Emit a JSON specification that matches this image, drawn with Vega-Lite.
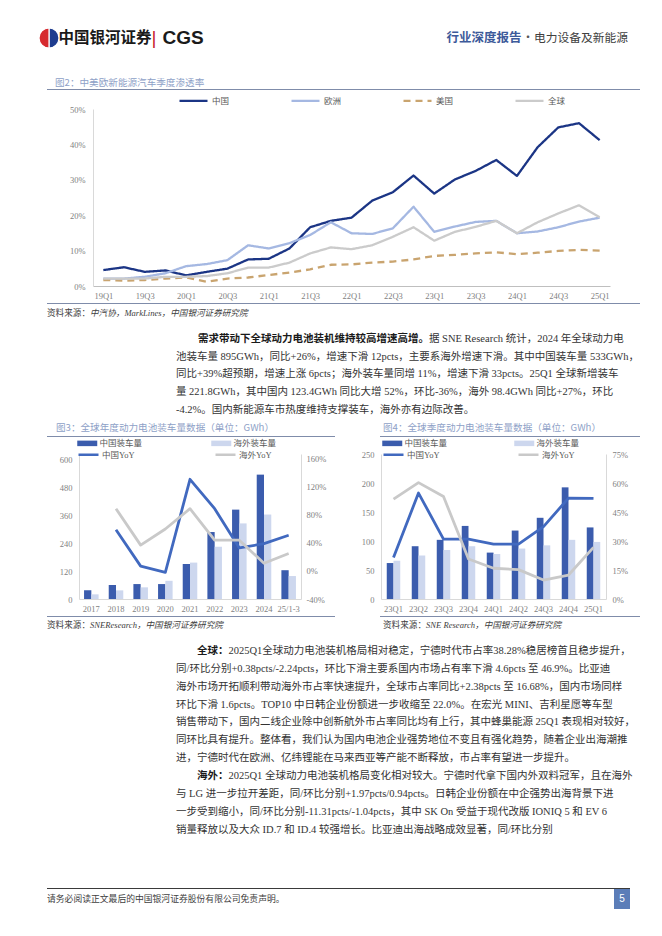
{
"$schema": "https://vega.github.io/schema/vega-lite/v6.json",
"background": "white",
"padding": 0,
"config": {
  "view": {"stroke": null},
  "font": "Liberation Serif, Noto Sans CJK SC",
  "axis": {"grid": false, "ticks": false, "labelFont": "Liberation Serif, Noto Sans CJK SC", "labelFontSize": 8.5, "labelColor": "#7F7F7F", "domainColor": "#D9D9D9", "domainWidth": 1},
  "legend": {"labelFont": "Liberation Serif, Noto Sans CJK SC", "labelFontSize": 8.5, "labelColor": "#595959", "padding": 0}
},
"datasets": {
  "empty": [],
  "c1": [
    {"q":"19Q1","s":"中国","v":4.5},{"q":"19Q2","s":"中国","v":5.3},{"q":"19Q3","s":"中国","v":4.0},{"q":"19Q4","s":"中国","v":4.4},{"q":"20Q1","s":"中国","v":3.0},{"q":"20Q2","s":"中国","v":4.0},{"q":"20Q3","s":"中国","v":4.9},{"q":"20Q4","s":"中国","v":7.5},{"q":"21Q1","s":"中国","v":7.7},{"q":"21Q2","s":"中国","v":10.6},{"q":"21Q3","s":"中国","v":16.6},{"q":"21Q4","s":"中国","v":18.4},{"q":"22Q1","s":"中国","v":19.3},{"q":"22Q2","s":"中国","v":24.1},{"q":"22Q3","s":"中国","v":26.5},{"q":"22Q4","s":"中国","v":31.2},{"q":"23Q1","s":"中国","v":26.1},{"q":"23Q2","s":"中国","v":30.1},{"q":"23Q3","s":"中国","v":32.5},{"q":"23Q4","s":"中国","v":35.6},{"q":"24Q1","s":"中国","v":31.1},{"q":"24Q2","s":"中国","v":39.2},{"q":"24Q3","s":"中国","v":44.8},{"q":"24Q4","s":"中国","v":46.0},{"q":"25Q1","s":"中国","v":41.2},
    {"q":"19Q1","s":"欧洲","v":2.1},{"q":"19Q2","s":"欧洲","v":2.1},{"q":"19Q3","s":"欧洲","v":2.6},{"q":"19Q4","s":"欧洲","v":3.6},{"q":"20Q1","s":"欧洲","v":5.6},{"q":"20Q2","s":"欧洲","v":6.2},{"q":"20Q3","s":"欧洲","v":7.3},{"q":"20Q4","s":"欧洲","v":11.5},{"q":"21Q1","s":"欧洲","v":10.6},{"q":"21Q2","s":"欧洲","v":12.1},{"q":"21Q3","s":"欧洲","v":14.4},{"q":"21Q4","s":"欧洲","v":18.0},{"q":"22Q1","s":"欧洲","v":14.9},{"q":"22Q2","s":"欧洲","v":14.7},{"q":"22Q3","s":"欧洲","v":16.3},{"q":"22Q4","s":"欧洲","v":22.4},{"q":"23Q1","s":"欧洲","v":15.3},{"q":"23Q2","s":"欧洲","v":16.8},{"q":"23Q3","s":"欧洲","v":18.1},{"q":"23Q4","s":"欧洲","v":18.4},{"q":"24Q1","s":"欧洲","v":14.9},{"q":"24Q2","s":"欧洲","v":15.4},{"q":"24Q3","s":"欧洲","v":16.6},{"q":"24Q4","s":"欧洲","v":18.2},{"q":"25Q1","s":"欧洲","v":19.3},
    {"q":"19Q1","s":"美国","v":1.7},{"q":"19Q2","s":"美国","v":1.5},{"q":"19Q3","s":"美国","v":1.7},{"q":"19Q4","s":"美国","v":2.1},{"q":"20Q1","s":"美国","v":2.4},{"q":"20Q2","s":"美国","v":1.2},{"q":"20Q3","s":"美国","v":2.1},{"q":"20Q4","s":"美国","v":2.4},{"q":"21Q1","s":"美国","v":3.1},{"q":"21Q2","s":"美国","v":3.8},{"q":"21Q3","s":"美国","v":4.7},{"q":"21Q4","s":"美国","v":6.0},{"q":"22Q1","s":"美国","v":6.1},{"q":"22Q2","s":"美国","v":6.6},{"q":"22Q3","s":"美国","v":6.9},{"q":"22Q4","s":"美国","v":7.5},{"q":"23Q1","s":"美国","v":8.5},{"q":"23Q2","s":"美国","v":8.8},{"q":"23Q3","s":"美国","v":9.2},{"q":"23Q4","s":"美国","v":9.5},{"q":"24Q1","s":"美国","v":9.0},{"q":"24Q2","s":"美国","v":9.4},{"q":"24Q3","s":"美国","v":9.9},{"q":"24Q4","s":"美国","v":10.2},{"q":"25Q1","s":"美国","v":10.0},
    {"q":"19Q1","s":"全球","v":2.1},{"q":"19Q2","s":"全球","v":2.1},{"q":"19Q3","s":"全球","v":2.1},{"q":"19Q4","s":"全球","v":2.6},{"q":"20Q1","s":"全球","v":2.6},{"q":"20Q2","s":"全球","v":2.8},{"q":"20Q3","s":"全球","v":3.6},{"q":"20Q4","s":"全球","v":5.2},{"q":"21Q1","s":"全球","v":5.2},{"q":"21Q2","s":"全球","v":6.6},{"q":"21Q3","s":"全球","v":9.2},{"q":"21Q4","s":"全球","v":10.9},{"q":"22Q1","s":"全球","v":10.4},{"q":"22Q2","s":"全球","v":11.5},{"q":"22Q3","s":"全球","v":13.9},{"q":"22Q4","s":"全球","v":16.6},{"q":"23Q1","s":"全球","v":12.8},{"q":"23Q2","s":"全球","v":15.3},{"q":"23Q3","s":"全球","v":16.7},{"q":"23Q4","s":"全球","v":18.4},{"q":"24Q1","s":"全球","v":14.9},{"q":"24Q2","s":"全球","v":18.0},{"q":"24Q3","s":"全球","v":20.5},{"q":"24Q4","s":"全球","v":22.8},{"q":"25Q1","s":"全球","v":19.4}
  ],
  "c3b": [
    {"x":"2017","s":"中国装车量","v":37},{"x":"2017","s":"海外装车量","v":20},
    {"x":"2018","s":"中国装车量","v":60},{"x":"2018","s":"海外装车量","v":37},
    {"x":"2019","s":"中国装车量","v":64},{"x":"2019","s":"海外装车量","v":50},
    {"x":"2020","s":"中国装车量","v":64},{"x":"2020","s":"海外装车量","v":78},
    {"x":"2021","s":"中国装车量","v":150},{"x":"2021","s":"海外装车量","v":156},
    {"x":"2022","s":"中国装车量","v":287},{"x":"2022","s":"海外装车量","v":224},
    {"x":"2023","s":"中国装车量","v":383},{"x":"2023","s":"海外装车量","v":324},
    {"x":"2024","s":"中国装车量","v":533},{"x":"2024","s":"海外装车量","v":362},
    {"x":"25/1-3","s":"中国装车量","v":123.4},{"x":"25/1-3","s":"海外装车量","v":98.4}
  ],
  "c3l": [
    {"x":"2018","s":"中国YoY","v":59},{"x":"2019","s":"中国YoY","v":7},{"x":"2020","s":"中国YoY","v":-2},{"x":"2021","s":"中国YoY","v":131},{"x":"2022","s":"中国YoY","v":89},{"x":"2023","s":"中国YoY","v":33},{"x":"2024","s":"中国YoY","v":39},{"x":"25/1-3","s":"中国YoY","v":51},
    {"x":"2018","s":"海外YoY","v":89},{"x":"2019","s":"海外YoY","v":37},{"x":"2020","s":"海外YoY","v":60},{"x":"2021","s":"海外YoY","v":89},{"x":"2022","s":"海外YoY","v":44},{"x":"2023","s":"海外YoY","v":44},{"x":"2024","s":"海外YoY","v":11},{"x":"25/1-3","s":"海外YoY","v":25}
  ],
  "c4b": [
    {"x":"23Q1","s":"中国装车量","v":62},{"x":"23Q1","s":"海外装车量","v":66},
    {"x":"23Q2","s":"中国装车量","v":91},{"x":"23Q2","s":"海外装车量","v":75},
    {"x":"23Q3","s":"中国装车量","v":102},{"x":"23Q3","s":"海外装车量","v":84.5},
    {"x":"23Q4","s":"中国装车量","v":126},{"x":"23Q4","s":"海外装车量","v":91},
    {"x":"24Q1","s":"中国装车量","v":80},{"x":"24Q1","s":"海外装车量","v":77.6},
    {"x":"24Q2","s":"中国装车量","v":118},{"x":"24Q2","s":"海外装车量","v":87},
    {"x":"24Q3","s":"中国装车量","v":140},{"x":"24Q3","s":"海外装车量","v":92.5},
    {"x":"24Q4","s":"中国装车量","v":192.5},{"x":"24Q4","s":"海外装车量","v":102},
    {"x":"25Q1","s":"中国装车量","v":123.4},{"x":"25Q1","s":"海外装车量","v":98.4}
  ],
  "c4l": [
    {"x":"23Q1","s":"中国YoY","v":21.5},{"x":"23Q2","s":"中国YoY","v":54.8},{"x":"23Q3","s":"中国YoY","v":31},{"x":"23Q4","s":"中国YoY","v":31},{"x":"24Q1","s":"中国YoY","v":28.4},{"x":"24Q2","s":"中国YoY","v":28.4},{"x":"24Q3","s":"中国YoY","v":37.4},{"x":"24Q4","s":"中国YoY","v":52.2},{"x":"25Q1","s":"中国YoY","v":52},
    {"x":"23Q1","s":"海外YoY","v":51.7},{"x":"23Q2","s":"海外YoY","v":60.2},{"x":"23Q3","s":"海外YoY","v":53},{"x":"23Q4","s":"海外YoY","v":20.7},{"x":"24Q1","s":"海外YoY","v":15.9},{"x":"24Q2","s":"海外YoY","v":15.2},{"x":"24Q3","s":"海外YoY","v":9.8},{"x":"24Q4","s":"海外YoY","v":12.4},{"x":"25Q1","s":"海外YoY","v":26.7}
  ]
},
"spacing": 0,
"bounds": "full",
"resolve": {"scale": {"color": "independent", "stroke": "independent", "strokeDash": "independent", "xOffset": "independent", "theta": "independent"}, "legend": {"color": "independent", "stroke": "independent", "strokeDash": "independent"}},
"vconcat": [
  {"spacing": 0, "bounds": "flush",
   "resolve": {"scale": {"color": "independent", "theta": "independent"}, "legend": {"color": "independent"}},
   "hconcat": [
    {"width": 39, "height": 76, "data": {"name": "empty"}, "mark": "rect", "encoding": {}},
    {"width": 20, "height": 76, "data": {"values": [{"p": "b", "v": 1}, {"p": "r", "v": 1}]}, "mark": {"type": "arc", "outerRadius": 10, "stroke": "white", "strokeWidth": 1.2}, "encoding": {"theta": {"field": "v", "type": "quantitative"}, "color": {"field": "p", "type": "nominal", "scale": {"domain": ["b", "r"], "range": ["#1E3C8F", "#D62A2F"]}, "legend": null}}},
    {"width": 92, "height": 76, "data": {"values": [{"t": "中国银河证券"}]}, "mark": {"type": "text", "align": "center", "baseline": "middle", "font": "Noto Sans CJK SC", "fontSize": 15.5, "fontWeight": "bold", "color": "#1A1A1A"}, "encoding": {"text": {"field": "t", "type": "nominal"}}},
    {"width": 6, "height": 76, "data": {"values": [{"t": "|"}]}, "mark": {"type": "text", "align": "center", "baseline": "middle", "font": "Liberation Sans", "fontSize": 19, "color": "#C8242B"}, "encoding": {"text": {"field": "t", "type": "nominal"}}},
    {"width": 52, "height": 76, "data": {"values": [{"t": "CGS"}]}, "mark": {"type": "text", "align": "center", "baseline": "middle", "font": "Liberation Sans", "fontSize": 19, "fontWeight": "bold", "color": "#1A1A1A"}, "encoding": {"text": {"field": "t", "type": "nominal"}}},
    {"width": 237, "height": 76, "data": {"name": "empty"}, "mark": "rect", "encoding": {}},
    {"width": 76, "height": 76, "data": {"values": [{"t": "行业深度报告"}]}, "mark": {"type": "text", "align": "center", "baseline": "middle", "font": "Noto Sans CJK SC", "fontSize": 12.5, "fontWeight": "bold", "color": "#3D5A9A"}, "encoding": {"text": {"field": "t", "type": "nominal"}}},
    {"width": 12, "height": 76, "data": {"values": [{"t": "·"}]}, "mark": {"type": "text", "align": "center", "baseline": "middle", "font": "Noto Sans CJK SC", "fontSize": 12, "color": "#555555"}, "encoding": {"text": {"field": "t", "type": "nominal"}}},
    {"width": 94, "height": 76, "data": {"values": [{"t": "电力设备及新能源"}]}, "mark": {"type": "text", "align": "center", "baseline": "middle", "font": "Noto Sans CJK SC", "fontSize": 11.75, "color": "#404040"}, "encoding": {"text": {"field": "t", "type": "nominal"}}}
  ]},
  {"width": 110, "height": 13, "data": {"values": [{"t": "图2：中美欧新能源汽车季度渗透率"}]}, "mark": {"type": "text", "align": "left", "baseline": "middle", "font": "Noto Sans CJK SC", "fontSize": 9.6, "color": "#8EA1C7"}, "encoding": {"text": {"field": "t", "type": "nominal"}}},
  {"spacing": 0, "bounds": "flush", "hconcat": [
    {"width": 47, "height": 1, "data": {"name": "empty"}, "mark": "rect", "encoding": {}},
    {"width": 593, "height": 1, "data": {"name": "empty"}, "mark": "rect", "encoding": {}, "view": {"fill": "#7F8CAA", "stroke": null}}
  ]},
  {"width": 1, "height": 5, "data": {"name": "empty"}, "mark": "rect", "encoding": {}},
  {"spacing": 0, "bounds": "flush",
   "resolve": {"scale": {"color": "independent", "strokeDash": "independent"}, "legend": {"color": "independent", "strokeDash": "independent"}},
   "hconcat": [
    {"width": 93, "height": 194, "data": {"name": "empty"}, "mark": "rect", "encoding": {}},
    {"width": 517, "height": 177, "data": {"name": "c1"},
     "mark": {"type": "line", "strokeJoin": "round", "strokeWidth": 2.3},
     "encoding": {
       "x": {"field": "q", "type": "ordinal", "scale": {"type": "point", "padding": 0.5, "domain": ["19Q1","19Q2","19Q3","19Q4","20Q1","20Q2","20Q3","20Q4","21Q1","21Q2","21Q3","21Q4","22Q1","22Q2","22Q3","22Q4","23Q1","23Q2","23Q3","23Q4","24Q1","24Q2","24Q3","24Q4","25Q1"]}, "axis": {"title": null, "values": ["19Q1","19Q3","20Q1","20Q3","21Q1","21Q3","22Q1","22Q3","23Q1","23Q3","24Q1","24Q3","25Q1"], "labelAngle": 0, "labelPadding": 5, "domainColor": "#BFBFBF"}},
       "y": {"field": "v", "type": "quantitative", "scale": {"domain": [0, 50], "nice": false}, "axis": {"title": null, "values": [0, 10, 20, 30, 40, 50], "labelExpr": "datum.value + '%'", "labelPadding": 8}},
       "color": {"field": "s", "type": "nominal", "scale": {"domain": ["中国", "欧洲", "美国", "全球"], "range": ["#1B3585", "#A5B8E2", "#C9A46F", "#CBCBCB"]}, "legend": {"title": null, "orient": "none", "legendX": 105, "legendY": -14, "direction": "horizontal", "columns": 4, "symbolType": "M-6,0H1", "symbolSize": 64, "symbolStrokeWidth": 2.4, "columnPadding": 56, "labelOffset": 3, "labelFont": "Noto Sans CJK SC", "labelFontSize": 8.5}},
       "strokeDash": {"field": "s", "type": "nominal", "scale": {"domain": ["中国", "欧洲", "美国", "全球"], "range": [[1, 0], [1, 0], [7, 5], [1, 0]]}, "legend": {"title": null, "orient": "none", "legendX": 105, "legendY": -14, "direction": "horizontal", "columns": 4, "symbolType": "M-6,0H1", "symbolSize": 64, "symbolStrokeWidth": 2.4, "columnPadding": 56, "labelOffset": 3, "labelFont": "Noto Sans CJK SC", "labelFontSize": 8.5}}
     }}
  ]},
  {"spacing": 0, "bounds": "flush", "hconcat": [
    {"width": 47, "height": 1, "data": {"name": "empty"}, "mark": "rect", "encoding": {}},
    {"width": 593, "height": 1, "data": {"name": "empty"}, "mark": "rect", "encoding": {}, "view": {"fill": "#7F8CAA", "stroke": null}}
  ]},
  {"width": 180, "height": 17, "layer": [
    {"data": {"values": [{"t": "资料来源："}]}, "mark": {"type": "text", "align": "right", "baseline": "middle", "fontSize": 8.6, "color": "#404040"}, "encoding": {"text": {"field": "t", "type": "nominal"}}},
    {"data": {"values": [{"t": "中汽协，MarkLines，中国银河证券研究院"}]}, "mark": {"type": "text", "align": "left", "baseline": "middle", "fontSize": 8.6, "fontStyle": "italic", "color": "#404040"}, "encoding": {"text": {"field": "t", "type": "nominal"}}}
  ]},
  {"width": 1, "height": 9, "data": {"name": "empty"}, "mark": "rect", "encoding": {}},
  {"spacing": 0, "bounds": "flush", "hconcat": [
    {"width": 300, "height": 17.6, "data": {"name": "empty"}, "mark": "rect", "encoding": {}},
    {"width": 258, "height": 17.6, "layer": [
      {"data": {"values": [{"t": "需求带动下全球动力电池装机维持较高增速高增。"}]}, "mark": {"type": "text", "align": "right", "baseline": "middle", "fontSize": 10.5, "fontWeight": "bold", "color": "#1A1A1A"}, "encoding": {"text": {"field": "t", "type": "nominal"}}},
      {"data": {"values": [{"t": "据 SNE Research 统计，2024 年全球动力电"}]}, "mark": {"type": "text", "align": "left", "baseline": "middle", "fontSize": 10.5, "color": "#333333"}, "encoding": {"text": {"field": "t", "type": "nominal"}}}
    ]}
  ]},
  {"width": 352, "height": 70.4, "data": {"values": [
      {"i": 1, "t": "池装车量 895GWh，同比+26%，增速下滑 12pcts，主要系海外增速下滑。其中中国装车量 533GWh，"},
      {"i": 2, "t": "同比+39%超预期，增速上涨 6pcts；海外装车量同增 11%，增速下滑 33pcts。25Q1 全球新增装车"},
      {"i": 3, "t": "量 221.8GWh，其中国内 123.4GWh 同比大增 52%，环比-36%，海外 98.4GWh 同比+27%，环比"},
      {"i": 4, "t": "-4.2%。国内新能源车市热度维持支撑装车，海外亦有边际改善。"}
    ]}, "mark": {"type": "text", "align": "left", "baseline": "middle", "fontSize": 10.5, "color": "#333333"},
   "encoding": {"y": {"field": "i", "type": "ordinal", "axis": null, "scale": {"type": "point", "padding": 0.5}}, "text": {"field": "t", "type": "nominal"}}},
  {"spacing": 0, "bounds": "flush", "hconcat": [
    {"width": 112, "height": 17, "data": {"values": [{"t": "图3：全球年度动力电池装车量数据（单位：GWh）"}]}, "mark": {"type": "text", "align": "left", "baseline": "middle", "font": "Noto Sans CJK SC", "fontSize": 9.6, "color": "#8EA1C7"}, "encoding": {"text": {"field": "t", "type": "nominal"}}},
    {"width": 542, "height": 17, "data": {"values": [{"t": "图4：全球季度动力电池装车量数据（单位：GWh）"}]}, "mark": {"type": "text", "align": "left", "baseline": "middle", "font": "Noto Sans CJK SC", "fontSize": 9.6, "color": "#8EA1C7"}, "encoding": {"text": {"field": "t", "type": "nominal"}}}
  ]},
  {"spacing": 0, "bounds": "flush", "hconcat": [
    {"width": 47, "height": 1, "data": {"name": "empty"}, "mark": "rect", "encoding": {}},
    {"width": 288, "height": 1, "data": {"name": "empty"}, "mark": "rect", "encoding": {}, "view": {"fill": "#7F8CAA", "stroke": null}},
    {"width": 45, "height": 1, "data": {"name": "empty"}, "mark": "rect", "encoding": {}},
    {"width": 260, "height": 1, "data": {"name": "empty"}, "mark": "rect", "encoding": {}, "view": {"fill": "#7F8CAA", "stroke": null}}
  ]},
  {"width": 1, "height": 2, "data": {"name": "empty"}, "mark": "rect", "encoding": {}},
  {"spacing": 0, "bounds": "flush",
   "resolve": {"scale": {"color": "independent", "stroke": "independent", "xOffset": "independent"}, "legend": {"color": "independent", "stroke": "independent"}},
   "hconcat": [
    {"width": 79, "height": 162, "data": {"name": "empty"}, "mark": "rect", "encoding": {}},
    {"width": 222, "height": 145,
     "resolve": {"scale": {"y": "independent"}},
     "layer": [
      {"data": {"name": "c3b"}, "mark": {"type": "bar"},
       "encoding": {
        "x": {"field": "x", "type": "ordinal", "scale": {"type": "band", "domain": ["2017","2018","2019","2020","2021","2022","2023","2024","25/1-3"], "paddingInner": 0.41, "paddingOuter": 0.205}, "axis": {"title": null, "labelAngle": 0, "labelPadding": 5}},
        "xOffset": {"field": "s", "type": "nominal", "scale": {"domain": ["中国装车量", "海外装车量"], "paddingInner": 0, "paddingOuter": 0}},
        "y": {"field": "v", "type": "quantitative", "scale": {"domain": [0, 621.43], "nice": false}, "axis": {"title": null, "values": [0, 120, 240, 360, 480, 600], "labelPadding": 7}},
        "color": {"field": "s", "type": "nominal", "scale": {"domain": ["中国装车量", "海外装车量"], "range": ["#3B5CAD", "#CDD7EE"]}, "legend": {"title": null, "orient": "none", "legendX": 10, "legendY": -15, "direction": "horizontal", "columns": 2, "symbolType": "M-4,-0.69H1V0.69H-4Z", "symbolSize": 64, "symbolStrokeWidth": 0, "columnPadding": 68, "labelOffset": 2}}
       }},
      {"data": {"name": "c3l"}, "mark": {"type": "line", "strokeWidth": 2.8, "strokeJoin": "round"},
       "encoding": {
        "x": {"field": "x", "type": "ordinal", "scale": {"type": "band", "domain": ["2017","2018","2019","2020","2021","2022","2023","2024","25/1-3"], "paddingInner": 0.41, "paddingOuter": 0.205}, "axis": {"title": null, "labelAngle": 0, "labelPadding": 5}},
        "y": {"field": "v", "type": "quantitative", "scale": {"domain": [-40, 167.14], "nice": false}, "axis": {"title": null, "orient": "right", "values": [-40, 0, 40, 80, 120, 160], "labelExpr": "datum.value + '%'", "labelPadding": 5}},
        "stroke": {"field": "s", "type": "nominal", "scale": {"domain": ["中国YoY", "海外YoY"], "range": ["#4169BF", "#C9C9C9"]}, "legend": {"title": null, "orient": "none", "legendX": 10, "legendY": -5, "direction": "horizontal", "columns": 2, "symbolType": "M-4,0H1", "symbolSize": 64, "symbolStrokeWidth": 2.5, "columnPadding": 75, "labelOffset": 2}}
       }}
     ]},
    {"width": 80, "height": 162, "data": {"name": "empty"}, "mark": "rect", "encoding": {}},
    {"width": 225, "height": 145,
     "resolve": {"scale": {"y": "independent"}},
     "layer": [
      {"data": {"name": "c4b"}, "mark": {"type": "bar"},
       "encoding": {
        "x": {"field": "x", "type": "ordinal", "scale": {"type": "band", "domain": ["23Q1","23Q2","23Q3","23Q4","24Q1","24Q2","24Q3","24Q4","25Q1"], "paddingInner": 0.46, "paddingOuter": 0.23}, "axis": {"title": null, "labelAngle": 0, "labelPadding": 5}},
        "xOffset": {"field": "s", "type": "nominal", "scale": {"domain": ["中国装车量", "海外装车量"], "paddingInner": 0, "paddingOuter": 0}},
        "y": {"field": "v", "type": "quantitative", "scale": {"domain": [0, 250], "nice": false}, "axis": {"title": null, "values": [0, 50, 100, 150, 200, 250], "labelPadding": 7}},
        "color": {"field": "s", "type": "nominal", "scale": {"domain": ["中国装车量", "海外装车量"], "range": ["#3B5CAD", "#CDD7EE"]}, "legend": {"title": null, "orient": "none", "legendX": 13, "legendY": -15, "direction": "horizontal", "columns": 2, "symbolType": "M-4,-0.69H1V0.69H-4Z", "symbolSize": 64, "symbolStrokeWidth": 0, "columnPadding": 66, "labelOffset": 2}}
       }},
      {"data": {"name": "c4l"}, "mark": {"type": "line", "strokeWidth": 2.8, "strokeJoin": "round"},
       "encoding": {
        "x": {"field": "x", "type": "ordinal", "scale": {"type": "band", "domain": ["23Q1","23Q2","23Q3","23Q4","24Q1","24Q2","24Q3","24Q4","25Q1"], "paddingInner": 0.46, "paddingOuter": 0.23}, "axis": {"title": null, "labelAngle": 0, "labelPadding": 5}},
        "y": {"field": "v", "type": "quantitative", "scale": {"domain": [0, 75], "nice": false}, "axis": {"title": null, "orient": "right", "values": [0, 15, 30, 45, 60, 75], "labelExpr": "datum.value + '%'", "labelPadding": 6}},
        "stroke": {"field": "s", "type": "nominal", "scale": {"domain": ["中国YoY", "海外YoY"], "range": ["#4169BF", "#C9C9C9"]}, "legend": {"title": null, "orient": "none", "legendX": 13, "legendY": -5, "direction": "horizontal", "columns": 2, "symbolType": "M-4,0H1", "symbolSize": 64, "symbolStrokeWidth": 2.5, "columnPadding": 73, "labelOffset": 2}}
       }}
     ]}
  ]},
  {"spacing": 0, "bounds": "flush", "hconcat": [
    {"width": 47, "height": 1, "data": {"name": "empty"}, "mark": "rect", "encoding": {}},
    {"width": 288, "height": 1, "data": {"name": "empty"}, "mark": "rect", "encoding": {}, "view": {"fill": "#7F8CAA", "stroke": null}},
    {"width": 45, "height": 1, "data": {"name": "empty"}, "mark": "rect", "encoding": {}},
    {"width": 260, "height": 1, "data": {"name": "empty"}, "mark": "rect", "encoding": {}, "view": {"fill": "#7F8CAA", "stroke": null}}
  ]},
  {"spacing": 0, "bounds": "flush", "hconcat": [
    {"width": 180, "height": 15, "layer": [
      {"data": {"values": [{"t": "资料来源："}]}, "mark": {"type": "text", "align": "right", "baseline": "middle", "fontSize": 8.6, "color": "#404040"}, "encoding": {"text": {"field": "t", "type": "nominal"}}},
      {"data": {"values": [{"t": "SNEResearch，中国银河证券研究院"}]}, "mark": {"type": "text", "align": "left", "baseline": "middle", "fontSize": 8.6, "fontStyle": "italic", "color": "#404040"}, "encoding": {"text": {"field": "t", "type": "nominal"}}}
    ]},
    {"width": 120, "height": 15, "data": {"name": "empty"}, "mark": "rect", "encoding": {}},
    {"width": 252, "height": 15, "layer": [
      {"data": {"values": [{"t": "资料来源："}]}, "mark": {"type": "text", "align": "right", "baseline": "middle", "fontSize": 8.6, "color": "#404040"}, "encoding": {"text": {"field": "t", "type": "nominal"}}},
      {"data": {"values": [{"t": "SNE Research，中国银河证券研究院"}]}, "mark": {"type": "text", "align": "left", "baseline": "middle", "fontSize": 8.6, "fontStyle": "italic", "color": "#404040"}, "encoding": {"text": {"field": "t", "type": "nominal"}}}
    ]}
  ]},
  {"width": 1, "height": 10, "data": {"name": "empty"}, "mark": "rect", "encoding": {}},
  {"width": 457, "height": 17.8, "layer": [
    {"data": {"values": [{"t": "全球："}]}, "mark": {"type": "text", "align": "right", "baseline": "middle", "fontSize": 10.5, "fontWeight": "bold", "color": "#1A1A1A"}, "encoding": {"text": {"field": "t", "type": "nominal"}}},
    {"data": {"values": [{"t": "2025Q1全球动力电池装机格局相对稳定，宁德时代市占率38.28%稳居榜首且稳步提升，"}]}, "mark": {"type": "text", "align": "left", "baseline": "middle", "fontSize": 10.5, "color": "#333333"}, "encoding": {"text": {"field": "t", "type": "nominal"}}}
  ]},
  {"width": 352, "height": 106.8, "data": {"values": [
      {"i": 1, "t": "同/环比分别+0.38pcts/-2.24pcts，环比下滑主要系国内市场占有率下滑 4.6pcts 至 46.9%。比亚迪"},
      {"i": 2, "t": "海外市场开拓顺利带动海外市占率快速提升，全球市占率同比+2.38pcts 至 16.68%，国内市场同样"},
      {"i": 3, "t": "环比下滑 1.6pcts。TOP10 中日韩企业份额进一步收缩至 22.0%。在宏光 MINI、吉利星愿等车型"},
      {"i": 4, "t": "销售带动下，国内二线企业除中创新航外市占率同比均有上行，其中蜂巢能源 25Q1 表现相对较好，"},
      {"i": 5, "t": "同环比具有提升。整体看，我们认为国内电池企业强势地位不变且有强化趋势，随着企业出海潮推"},
      {"i": 6, "t": "进，宁德时代在欧洲、亿纬锂能在马来西亚等产能不断释放，市占率有望进一步提升。"}
    ]}, "mark": {"type": "text", "align": "left", "baseline": "middle", "fontSize": 10.5, "color": "#333333"},
   "encoding": {"y": {"field": "i", "type": "ordinal", "axis": null, "scale": {"type": "point", "padding": 0.5}}, "text": {"field": "t", "type": "nominal"}}},
  {"width": 457, "height": 17.8, "layer": [
    {"data": {"values": [{"t": "海外："}]}, "mark": {"type": "text", "align": "right", "baseline": "middle", "fontSize": 10.5, "fontWeight": "bold", "color": "#1A1A1A"}, "encoding": {"text": {"field": "t", "type": "nominal"}}},
    {"data": {"values": [{"t": "2025Q1 全球动力电池装机格局变化相对较大。宁德时代拿下国内外双料冠军，且在海外"}]}, "mark": {"type": "text", "align": "left", "baseline": "middle", "fontSize": 10.5, "color": "#333333"}, "encoding": {"text": {"field": "t", "type": "nominal"}}}
  ]},
  {"width": 352, "height": 53.4, "data": {"values": [
      {"i": 8, "t": "与 LG 进一步拉开差距，同/环比分别+1.97pcts/0.94pcts。日韩企业份额在中企强势出海背景下进"},
      {"i": 9, "t": "一步受到缩小，同/环比分别-11.31pcts/-1.04pcts，其中 SK On 受益于现代改版 IONIQ 5 和 EV 6"},
      {"i": 10, "t": "销量释放以及大众 ID.7 和 ID.4 较强增长。比亚迪出海战略成效显著，同/环比分别"}
    ]}, "mark": {"type": "text", "align": "left", "baseline": "middle", "fontSize": 10.5, "color": "#333333"},
   "encoding": {"y": {"field": "i", "type": "ordinal", "axis": null, "scale": {"type": "point", "padding": 0.5}}, "text": {"field": "t", "type": "nominal"}}},
  {"width": 1, "height": 48.2, "data": {"name": "empty"}, "mark": "rect", "encoding": {}},
  {"spacing": 0, "bounds": "flush", "hconcat": [
    {"width": 47, "height": 1, "data": {"name": "empty"}, "mark": "rect", "encoding": {}},
    {"width": 583, "height": 1, "data": {"name": "empty"}, "mark": "rect", "encoding": {}, "view": {"fill": "#3A3A3A", "stroke": null}}
  ]},
  {"spacing": 0, "bounds": "flush", "hconcat": [
    {"width": 94, "height": 20, "data": {"values": [{"t": "请务必阅读正文最后的中国银河证券股份有限公司免责声明。"}]}, "mark": {"type": "text", "align": "left", "baseline": "middle", "font": "Noto Sans CJK SC", "fontSize": 8.8, "color": "#404040"}, "encoding": {"text": {"field": "t", "type": "nominal"}}},
    {"width": 520, "height": 20, "data": {"name": "empty"}, "mark": "rect", "encoding": {}},
    {"width": 16, "height": 20, "data": {"values": [{"t": "5"}]}, "mark": {"type": "text", "align": "center", "baseline": "middle", "font": "Liberation Sans", "fontSize": 10, "color": "white"}, "encoding": {"text": {"field": "t", "type": "nominal"}}, "view": {"fill": "#5B7DB8", "stroke": null}}
  ]},
  {"width": 662, "height": 30, "data": {"name": "empty"}, "mark": "rect", "encoding": {}}
]
}
